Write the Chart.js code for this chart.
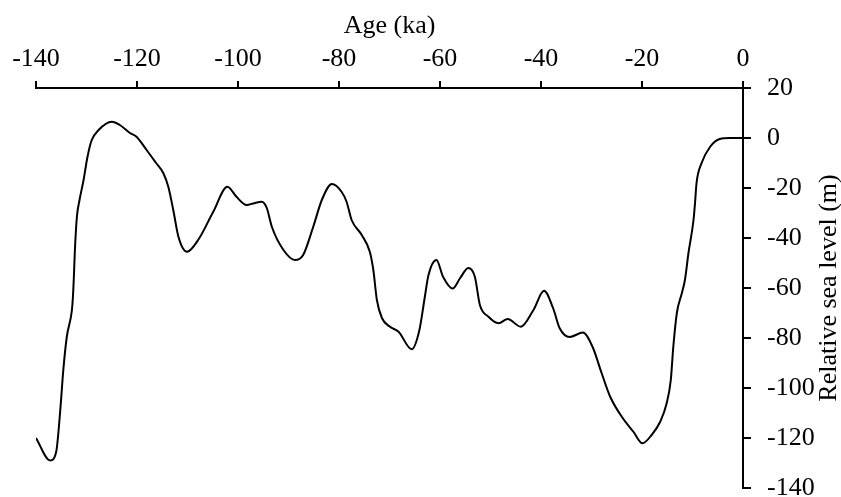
<!DOCTYPE html>
<html>
<head>
<meta charset="utf-8">
<script src="https://cdn.jsdelivr.net/npm/chart.js@4"></script>
<style>
  html, body { margin: 0; padding: 0; background: #fff; overflow: hidden; }
</style>
</head>
<body>
<canvas id="slChart" width="841" height="497"></canvas>
<script>
// sea level curve, age in ka (negative = before present), level in metres
var ages = [
  -140, -137.2, -136.0, -135.2, -134.6, -133.9, -132.9, -132.7, -132.5, -132.3,
  -131.9, -131.4, -130.6, -129.8, -129.0, -127.6, -125.0, -123.4, -121.4, -120.1,
  -118.1, -116.4, -114.8, -113.8, -112.8, -111.8, -110.1, -107.8, -104.9, -102.1,
  -100.3, -98.3, -97.0, -95.3, -94.3, -93.3, -91.0, -88.7, -87.1, -85.1,
  -83.4, -81.4, -79.5, -78.5, -77.5, -75.5, -73.9, -73.2, -72.5, -71.5,
  -69.9, -68.2, -65.6, -64.1, -63.0, -62.3, -60.7, -59.4, -57.5, -56.0,
  -54.4, -53.1, -52.1, -50.4, -48.4, -46.6, -44.0, -41.5, -39.4, -37.6,
  -36.3, -34.3, -31.7, -29.8, -28.0, -26.3, -24.0, -21.7, -19.9, -18.1,
  -16.4, -15.1, -14.3, -13.8, -13.1, -12.1, -11.5, -10.8, -9.8, -9.5,
  -9.2, -8.2, -6.5, -4.6, -2.6, 0
];
var seaLevel = [
  -120, -129, -125.5, -109, -93, -79.5, -69, -64, -55.5, -45,
  -31.5, -25, -17, -7.5, -1, 3.2, 6.5, 5.2, 2, 0.5,
  -4.8, -9.5, -14, -19.5, -29, -39.5, -45.5, -40.5, -29.5, -19.5,
  -23.5, -26.8, -26.2, -25.5, -28, -35.5, -44.8, -48.8, -46.8, -35.5,
  -24.8, -18.4, -21.5, -25.5, -32.8, -38.8, -45.5, -52.8, -64.8, -72,
  -75.5, -77.5, -84.5, -77, -63.5, -55, -48.8, -55.5, -60.2, -56,
  -52, -55.5, -66.8, -71.5, -74.1, -72.4, -75.5, -68.8, -61.1, -68.1,
  -76.1, -79.6, -77.8, -83.5, -94, -103.5, -111.5, -117.5, -122.1, -118.8,
  -113.5, -106, -96.8, -83.5, -70, -62, -56.8, -46, -32.8, -26,
  -18, -10, -3.5, -0.4, 0, 0
];

var ageTicks = [-140, -120, -100, -80, -60, -40, -20, 0];
var levelTicks = [-140, -120, -100, -80, -60, -40, -20, 0, 20];

var xTitle = "Age (ka)";
var yTitle = "Relative sea level (m)";

var serif = "'Liberation Serif', 'Times New Roman', serif";

var points = [];
for (let i = 0; i < ages.length; i++) {
    points.push({ x: ages[i], y: seaLevel[i] });
}

// y title on the right, reading bottom to top
let sideTitle = {
    id: 'sideTitle',
    afterDraw: (chart) => {
        let ctx = chart.ctx;
        let area = chart.chartArea;
        let yScale = chart.scales.y;
        ctx.save();
        ctx.translate(yScale.left + 86, (area.top + area.bottom) / 2);
        ctx.rotate(-Math.PI / 2);
        ctx.font = "26px " + serif;
        ctx.fillStyle = "#000";
        ctx.textAlign = "center";
        ctx.textBaseline = "middle";
        ctx.fillText(yTitle, 0, 0);
        ctx.restore();
    }
};

let chart = new Chart(document.getElementById("slChart"), {
    type: 'line',
    data: {
        datasets: [{
            data: points,
            borderColor: '#000',
            borderWidth: 2,
            pointRadius: 0,
            fill: false,
            cubicInterpolationMode: 'monotone'
        }]
    },
    options: {
        responsive: false,
        animation: false,
        events: [],
        layout: { padding: { left: 36, top: 0, right: 0, bottom: 9 } },
        plugins: {
            legend: { display: false },
            tooltip: { enabled: false }
        },
        scales: {
            x: {
                type: 'linear',
                position: 'top',
                min: -140,
                max: 0,
                afterBuildTicks: (s) => { s.ticks = ageTicks.map(v => ({ value: v })); },
                afterFit: (s) => { s.height = 88; s.paddingLeft = 0; s.paddingRight = 0; },
                ticks: {
                    color: '#000',
                    font: { family: serif, size: 26 },
                    padding: 6,
                    maxRotation: 0,
                    autoSkip: false
                },
                grid: {
                    drawOnChartArea: false,
                    drawTicks: true,
                    tickLength: 7,
                    color: '#000',
                    lineWidth: 2
                },
                border: { display: true, color: '#000', width: 2 },
                title: {
                    display: true,
                    text: xTitle,
                    color: '#000',
                    font: { family: serif, size: 26 },
                    padding: { top: 11, bottom: 0 }
                }
            },
            y: {
                type: 'linear',
                position: 'right',
                min: -140,
                max: 20,
                afterBuildTicks: (s) => { s.ticks = levelTicks.map(v => ({ value: v })); },
                afterFit: (s) => { s.width = 98; s.paddingTop = 0; s.paddingBottom = 0; },
                ticks: {
                    color: '#000',
                    font: { family: serif, size: 26 },
                    padding: 16,
                    autoSkip: false
                },
                grid: {
                    drawOnChartArea: false,
                    drawTicks: true,
                    tickLength: 8,
                    color: '#000',
                    lineWidth: 2
                },
                border: { display: true, color: '#000', width: 2 }
            }
        }
    },
    plugins: [sideTitle]
});
</script>
</body>
</html>
